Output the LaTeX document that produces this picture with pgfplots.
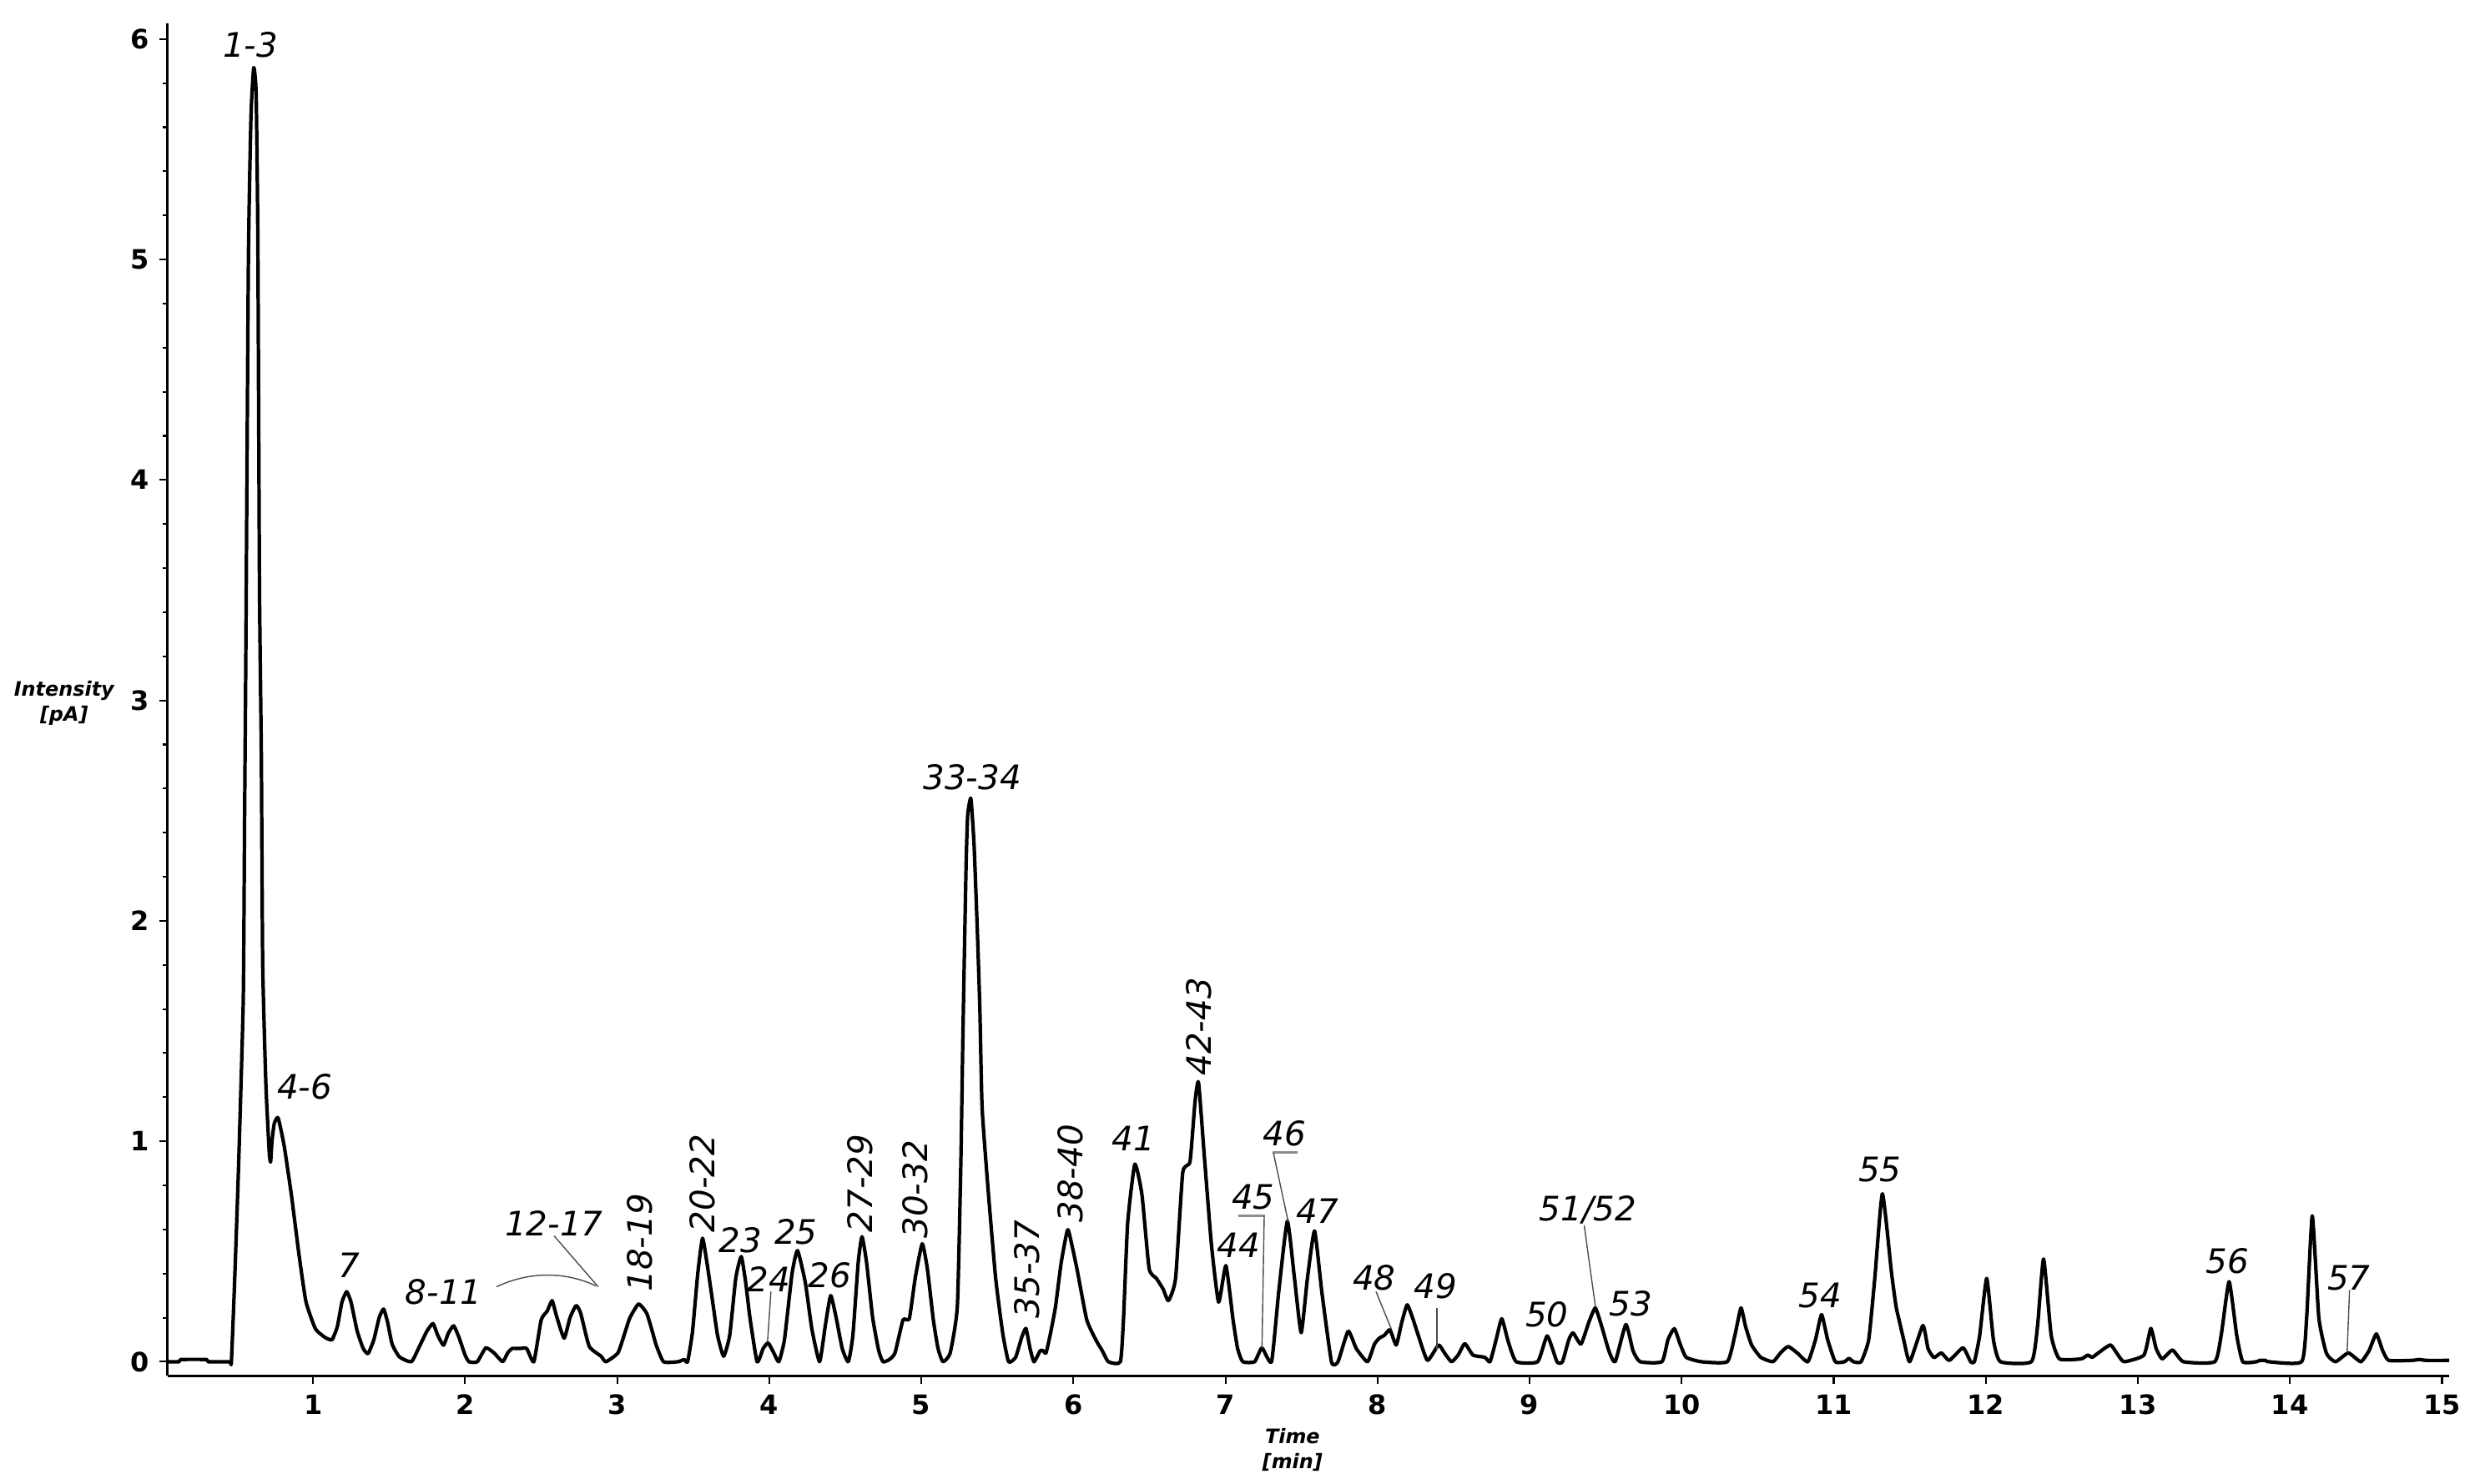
\documentclass[border=0pt]{standalone}
\usepackage{fontspec}
\setmainfont{DejaVu Sans}
\usepackage{pgfplots}
\pgfplotsset{compat=1.18}
\pgfplotstableread{
x y
0.044 0.0
0.12 0.0
0.13 0.01
0.30 0.01
0.31 0.0
0.45 0.0
0.463 0.0
0.485 0.376
0.51 0.88
0.541 1.636
0.55 2.47
0.558 3.2
0.575 5.0
0.592 5.65
0.61 5.87
0.626 5.75
0.637 5.1
0.648 3.5
0.66 2.75
0.669 1.8
0.69 1.258
0.712 0.95
0.721 0.906
0.73 1.0
0.745 1.08
0.77 1.107
0.81 0.98
0.858 0.755
0.905 0.50
0.953 0.274
1.016 0.149
1.08 0.11
1.125 0.10
1.16 0.16
1.19 0.27
1.221 0.318
1.25 0.27
1.29 0.14
1.33 0.06
1.362 0.037
1.40 0.10
1.435 0.20
1.464 0.239
1.49 0.18
1.52 0.08
1.568 0.022
1.647 0.0
1.70 0.07
1.75 0.14
1.789 0.173
1.82 0.12
1.858 0.075
1.89 0.13
1.925 0.163
1.96 0.11
2.00 0.03
2.026 0.0
2.08 0.0
2.136 0.063
2.19 0.04
2.247 0.0
2.28 0.04
2.31 0.06
2.36 0.06
2.405 0.06
2.452 0.0
2.50 0.189
2.54 0.23
2.572 0.277
2.60 0.21
2.651 0.107
2.69 0.20
2.73 0.255
2.76 0.22
2.816 0.07
2.894 0.025
2.926 0.0
3.005 0.04
3.05 0.13
3.084 0.20
3.141 0.262
3.194 0.22
3.23 0.14
3.257 0.075
3.305 0.0
3.40 0.0
3.44 0.01
3.463 0.0
3.495 0.134
3.53 0.40
3.561 0.56
3.59 0.45
3.62 0.31
3.66 0.12
3.70 0.025
3.74 0.12
3.78 0.38
3.816 0.477
3.845 0.36
3.873 0.20
3.92 0.0
3.96 0.06
3.993 0.085
4.03 0.04
4.063 0.0
4.10 0.10
4.15 0.40
4.186 0.504
4.237 0.36
4.28 0.15
4.331 0.0
4.37 0.17
4.404 0.30
4.44 0.20
4.48 0.06
4.52 0.0
4.55 0.12
4.585 0.45
4.61 0.567
4.64 0.45
4.68 0.20
4.72 0.05
4.748 0.0
4.79 0.01
4.827 0.04
4.88 0.19
4.921 0.195
4.96 0.38
5.006 0.535
5.04 0.42
5.079 0.19
5.11 0.06
5.142 0.0
5.19 0.04
5.237 0.252
5.26 0.90
5.273 1.46
5.284 1.876
5.295 2.267
5.305 2.48
5.326 2.555
5.347 2.343
5.368 1.964
5.385 1.6
5.40 1.15
5.442 0.757
5.489 0.378
5.536 0.126
5.574 0.0
5.62 0.02
5.66 0.11
5.688 0.151
5.715 0.06
5.741 0.0
5.782 0.05
5.80 0.05
5.82 0.04
5.85 0.13
5.883 0.252
5.92 0.45
5.962 0.599
5.99 0.53
6.025 0.416
6.088 0.19
6.151 0.095
6.19 0.05
6.23 0.0
6.309 0.0
6.33 0.20
6.357 0.63
6.404 0.896
6.451 0.757
6.498 0.423
6.546 0.378
6.59 0.33
6.625 0.277
6.672 0.378
6.719 0.857
6.767 0.908
6.80 1.18
6.823 1.267
6.861 0.933
6.908 0.53
6.955 0.27
7.003 0.436
7.05 0.19
7.08 0.06
7.114 0.0
7.192 0.0
7.24 0.063
7.303 0.0
7.35 0.315
7.407 0.637
7.454 0.378
7.498 0.132
7.539 0.378
7.586 0.593
7.634 0.315
7.697 0.0
7.74 0.0
7.807 0.139
7.86 0.06
7.934 0.0
7.98 0.08
8.012 0.107
8.045 0.12
8.082 0.145
8.123 0.076
8.16 0.18
8.195 0.258
8.23 0.20
8.265 0.126
8.328 0.006
8.401 0.076
8.44 0.04
8.486 0.0
8.53 0.03
8.574 0.082
8.628 0.03
8.706 0.02
8.74 0.0
8.78 0.10
8.817 0.195
8.86 0.09
8.912 0.0
9.053 0.0
9.116 0.117
9.18 0.0
9.216 0.0
9.258 0.10
9.286 0.131
9.338 0.08
9.39 0.18
9.432 0.244
9.47 0.17
9.522 0.048
9.563 0.0
9.633 0.169
9.68 0.05
9.727 0.0
9.87 0.0
9.91 0.10
9.952 0.15
9.99 0.08
10.03 0.02
10.13 0.0
10.30 0.0
10.35 0.12
10.39 0.244
10.42 0.16
10.46 0.076
10.52 0.02
10.60 0.0
10.65 0.04
10.70 0.069
10.76 0.04
10.83 0.0
10.88 0.10
10.92 0.214
10.96 0.10
11.01 0.0
11.07 0.0
11.10 0.015
11.13 0.0
11.18 0.0
11.23 0.10
11.27 0.378
11.32 0.762
11.38 0.403
11.41 0.25
11.43 0.189
11.46 0.10
11.50 0.0
11.586 0.164
11.62 0.06
11.659 0.019
11.708 0.04
11.76 0.006
11.85 0.063
11.90 0.0
11.925 0.0
11.96 0.12
12.006 0.378
12.05 0.10
12.096 0.0
12.30 0.0
12.34 0.16
12.38 0.466
12.43 0.12
12.484 0.013
12.627 0.013
12.67 0.03
12.70 0.02
12.74 0.04
12.82 0.076
12.87 0.03
12.91 0.0
13.04 0.03
13.085 0.151
13.12 0.06
13.16 0.013
13.228 0.053
13.30 0.0
13.506 0.0
13.55 0.13
13.60 0.363
13.65 0.12
13.69 0.0
13.78 0.0
13.80 0.006
13.84 0.006
13.86 0.0
14.077 0.0
14.11 0.20
14.147 0.662
14.19 0.20
14.24 0.038
14.30 0.0
14.384 0.04
14.466 0.0
14.52 0.05
14.568 0.126
14.61 0.05
14.65 0.006
14.80 0.006
14.85 0.01
14.90 0.006
15.047 0.006
}\chrom
\begin{document}
\begin{tikzpicture}[
  lab/.style={font=\fontsize{11.5}{13}\selectfont\itshape, inner sep=0pt},
  leader/.style={draw=black!70, line width=0.4pt},
  uline/.style={draw=black!45, line width=0.8pt},
]
\begin{axis}[
  scale only axis,
  width=27.34cm, height=16.21cm,
  xmin=0.044, xmax=15.047,
  ymin=-0.064, ymax=6.07,
  axis x line*=bottom, axis y line*=left,
  axis line style={line width=0.9pt, black},
  xtick={1,...,15}, ytick={0,...,6},
  minor y tick num=4,
  tick align=outside,
  major tick length=0.1cm, minor tick length=0.06cm,
  tick style={line width=0.6pt, black},
  /pgf/number format/assume math mode=true,
  tick label style={font=\fontsize{9.1}{11}\selectfont\bfseries},
  xlabel={Time\\{}[min]},
  ylabel={Intensity\\{}[pA]},
  xlabel style={align=center, font=\fontsize{6.8}{8.4}\selectfont\bfseries\itshape, at={(rel axis cs:0.493,-0.0547)}, anchor=center},
  ylabel style={rotate=-90, align=center, font=\fontsize{6.8}{8.4}\selectfont\bfseries\itshape, at={(rel axis cs:-0.0454,0.4975)}, anchor=center},
  clip=false,
]
\addplot[black, line width=1.2pt, line join=round, smooth, tension=0.3] table {\chrom};

\node[lab] at (axis cs:0.588,5.975) {1-3};
\node[lab] at (axis cs:0.945,1.246) {4-6};
\node[lab] at (axis cs:1.235,0.438) {7};
\node[lab] at (axis cs:1.86,0.318) {8-11};
\node[lab] at (axis cs:2.585,0.627) {12-17};
\node[lab, rotate=90] at (axis cs:3.15,0.539) {18-19};
\node[lab, rotate=90] at (axis cs:3.56,0.81) {20-22};
\node[lab] at (axis cs:3.812,0.552) {23};
\node[lab] at (axis cs:3.998,0.375) {24};
\node[lab] at (axis cs:4.175,0.589) {25};
\node[lab] at (axis cs:4.396,0.392) {26};
\node[lab, rotate=90] at (axis cs:4.60,0.81) {27-29};
\node[lab, rotate=90] at (axis cs:4.96,0.782) {30-32};
\node[lab] at (axis cs:5.335,2.652) {33-34};
\node[lab, rotate=90] at (axis cs:5.694,0.419) {35-37};
\node[lab, rotate=90] at (axis cs:5.981,0.854) {38-40};
\node[lab] at (axis cs:6.394,1.012) {41};
\node[lab, rotate=90] at (axis cs:6.823,1.52) {42-43};
\node[lab] at (axis cs:7.088,0.527) {44};
\node[lab] at (axis cs:7.183,0.745) {45};
\node[lab] at (axis cs:7.388,1.037) {46};
\node[lab] at (axis cs:7.605,0.684) {47};
\node[lab] at (axis cs:7.978,0.381) {48};
\node[lab] at (axis cs:8.381,0.344) {49};
\node[lab] at (axis cs:9.114,0.215) {50};
\node[lab] at (axis cs:9.383,0.688) {51/52};
\node[lab] at (axis cs:9.665,0.262) {53};
\node[lab] at (axis cs:10.91,0.30) {54};
\node[lab] at (axis cs:11.304,0.873) {55};
\node[lab] at (axis cs:13.59,0.457) {56};
\node[lab] at (axis cs:14.388,0.381) {57};

\draw[leader] (axis cs:2.207,0.34) .. controls (axis cs:2.42,0.41) and (axis cs:2.66,0.41) .. (axis cs:2.86,0.344);
\draw[leader] (axis cs:2.585,0.571) -- (axis cs:2.875,0.34);
\draw[leader] (axis cs:4.011,0.318) -- (axis cs:3.989,0.092);
\draw[uline] (axis cs:7.082,0.663) -- (axis cs:7.262,0.663);
\draw[leader] (axis cs:7.255,0.663) -- (axis cs:7.24,0.06);
\draw[uline] (axis cs:7.309,0.949) -- (axis cs:7.476,0.949);
\draw[leader] (axis cs:7.315,0.949) -- (axis cs:7.413,0.634);
\draw[leader] (axis cs:7.99,0.318) -- (axis cs:8.091,0.148);
\draw[leader] (axis cs:8.39,0.243) -- (axis cs:8.39,0.054);
\draw[leader] (axis cs:9.359,0.619) -- (axis cs:9.433,0.249);
\draw[leader] (axis cs:14.392,0.325) -- (axis cs:14.376,0.041);

\path (rel axis cs:-0.07348,-0.0794) rectangle (rel axis cs:1.01133,1.01746);
\end{axis}
\end{tikzpicture}
\end{document}
